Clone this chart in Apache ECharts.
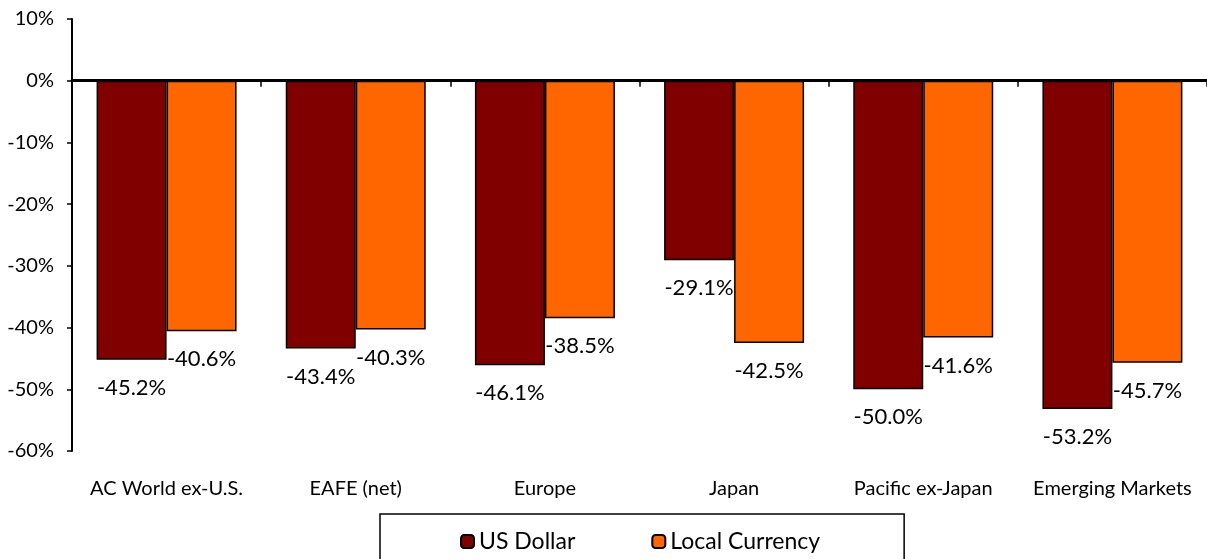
<!DOCTYPE html>
<html>
<head>
<meta charset="utf-8">
<script src="https://cdn.jsdelivr.net/npm/echarts@6/dist/echarts.min.js"></script>
<style>
  html, body { margin: 0; padding: 0; background: #fff; }
  #chart { width: 1207px; height: 559px; }
</style>
</head>
<body>
<div id="chart"></div>
<script>
const categories = ['AC World ex-U.S.', 'EAFE (net)', 'Europe', 'Japan', 'Pacific ex-Japan', 'Emerging Markets'];
const usDollar = [-45.2, -43.4, -46.1, -29.1, -50.0, -53.2];
const localCurrency = [-40.6, -40.3, -38.5, -42.5, -41.6, -45.7];

const FONT = 'Lato';

const chart = echarts.init(document.getElementById('chart'));

// label under each bar, same style for both series
const barLabel = {
  show: true,
  position: 'bottom',
  distance: 17,
  color: '#000',
  fontFamily: FONT,
  fontSize: 22,
  formatter: p => p.value.toFixed(1) + '%'
};

const option = {
  animation: false,
  textStyle: { fontFamily: FONT, color: '#000' },
  grid: { left: 72, top: 19, width: 1140, height: 432 },
  legend: {
    left: 380,
    top: 514,
    itemWidth: 13,
    itemHeight: 13,
    itemGap: 76,
    padding: [16, 84, 22, 80],
    borderColor: '#000',
    borderWidth: 1.5,
    textStyle: { fontFamily: FONT, fontSize: 23, color: '#000' },
    data: ['US Dollar', 'Local Currency']
  },
  xAxis: [
    {
      // zero line with tick marks
      type: 'category',
      data: categories,
      position: 'bottom',
      axisLine: { onZero: true, lineStyle: { color: '#000', width: 3 } },
      axisTick: { show: true, length: 6, lineStyle: { color: '#000', width: 1.5 } },
      axisLabel: { show: false }
    },
    {
      // category names along the bottom
      type: 'category',
      data: categories,
      position: 'bottom',
      axisLine: { show: false, onZero: false },
      axisTick: { show: false },
      axisLabel: { interval: 0, hideOverlap: false, margin: 28, fontSize: 20, color: '#000', fontFamily: FONT }
    }
  ],
  yAxis: {
    type: 'value',
    min: -60,
    max: 10,
    interval: 10,
    axisLine: { show: true, onZero: false, lineStyle: { color: '#000', width: 2 } },
    axisTick: { show: true, length: 5, lineStyle: { color: '#000', width: 1.5 } },
    splitLine: { show: false },
    axisLabel: { margin: 18, fontSize: 20, color: '#000', fontFamily: FONT, formatter: '{value}%' }
  },
  series: [
    {
      name: 'US Dollar',
      type: 'bar',
      data: usDollar,
      barGap: '0%',
      barCategoryGap: '26%',
      itemStyle: { color: '#800000', borderColor: '#000', borderWidth: 1.5 },
      label: barLabel
    },
    {
      name: 'Local Currency',
      type: 'bar',
      data: localCurrency,
      itemStyle: { color: '#FF6600', borderColor: '#000', borderWidth: 1.5 },
      label: barLabel
    }
  ]
};

chart.setOption(option);
</script>
</body>
</html>
